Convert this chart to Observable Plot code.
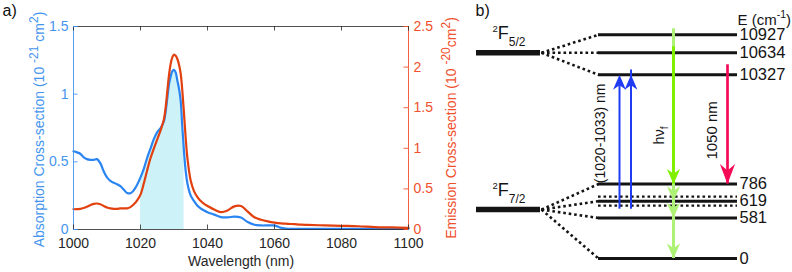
<!DOCTYPE html>
<html><head><meta charset="utf-8">
<script src="https://cdn.jsdelivr.net/npm/d3@7"></script>
<script src="https://cdn.jsdelivr.net/npm/@observablehq/plot@0.6"></script>
<style>
html,body{margin:0;padding:0;background:#fff;}
#wrap{display:flex;width:792px;height:272px;overflow:hidden;}
#wrap svg{overflow:visible;display:block;}
</style></head><body><div id="wrap"></div>
<script>
// ---------- data: panel a ----------
const wavelength = [1000,1001,1002,1003,1004,1005,1006,1007,1008,1009,1010,1011,1012,1013,1014,1015,1016,1017,1018,1019,1020,1021,1022,1023,1024,1025,1026,1027,
  1027.5,1028,1028.5,1029,1029.5,1030,1030.5,1031,1031.5,1032,1032.5,1033,1033.5,1034,
  1035,1036,1037,1038,1039,1040,
  1042,1044,1046,1048,1050,1052,1054,1056,1058,1060,1062,1064,1066,1068,1070,
  1075,1080,1085,1090,1095,1100];
const absorption = [0.578,0.57,0.56,0.535,0.52,0.515,0.515,0.52,0.49,0.43,0.385,0.36,0.345,0.335,0.32,0.295,0.27,0.268,0.29,0.33,0.385,0.45,0.53,0.6,0.67,0.72,0.75,0.8,
  0.87,0.97,1.07,1.13,1.17,1.18,1.16,1.1,1.04,0.95,0.75,0.57,0.43,0.34,
  0.25,0.21,0.175,0.155,0.14,0.128,
  0.11,0.092,0.09,0.095,0.088,0.055,0.035,0.03,0.03,0.03,0.012,0.005,0.005,0.005,0.005,
  0.005,0.005,0.005,0.005,0.005,0.005];
const emission = [0.25,0.25,0.255,0.265,0.28,0.3,0.315,0.32,0.31,0.29,0.27,0.26,0.255,0.255,0.26,0.26,0.26,0.275,0.31,0.36,0.43,0.57,0.73,0.88,1.0,1.11,1.22,1.36,
  1.5,1.7,1.9,2.04,2.12,2.155,2.14,2.1,2.03,1.92,1.7,1.42,1.12,0.88,
  0.6,0.47,0.4,0.35,0.315,0.29,
  0.245,0.215,0.235,0.285,0.29,0.22,0.15,0.12,0.1,0.085,0.075,0.07,0.065,0.06,0.057,
  0.05,0.045,0.04,0.03,0.025,0.02];
const xTicks = [1000,1020,1040,1060,1080,1100];
const absTicks = [0,0.5,1,1.5];
const emiTicks = [0,0.5,1,1.5,2,2.5];
const shadeRange = [1020,1033];

// ---------- data: panel b ----------
const levelEnergy = [0,581,619,786,10327,10634,10927];
const levelLabel = ["0","581","619","786","10327","10634","10927"];
const levelManifold = ["7/2","7/2","7/2","7/2","5/2","5/2","5/2"];
const termName = ["7/2","5/2"];
const termEnergy = [600,10634];          // schematic placement of the term bars
const thermalLevel = 619;
const pumpTransition = [619,10327];
const laserTransition = [10327,786];
const fluoFrom = 10927;
const fluoTargets = [786,619,581,0];
const pumpLabel = "(1020-1033) nm";
const laserLabel = "1050 nm";
const fluoLabel = "h\u03BD_{f}";

// ---------- styles ----------
const FONT = "'Liberation Sans', Arial, Helvetica, sans-serif";
const DARK = "#262626";
const BLUE_LINE = "#2a84f2", BLUE_TXT = "#4595ee";
const RED_LINE = "#e2400f", RED_TXT = "#f0502c";
const SHADE = "#cdf3f9";
const K = 1.5 / 2.5;

// rich text (super/subscripts) for labels written with ^{..} and _{..}
function richify(svg, configs) {
  svg.querySelectorAll("text").forEach(t => {
    const s = t.textContent;
    if (!/[\^_]\{/.test(s)) return;
    const o = configs.find(c => c.match(s));
    if (!o) return;
    while (t.firstChild) t.removeChild(t.firstChild);
    t.style.whiteSpace = "pre";
    let off = 0;
    s.split(/(\^\{[^}]*\}|_\{[^}]*\})/).filter(Boolean).forEach(tok => {
      let size = o.base, target = 0, txt = tok;
      if (tok.startsWith("^{")) { size = o.supSize; target = o.supDy; txt = tok.slice(2, -1); }
      else if (tok.startsWith("_{")) { size = o.subSize; target = o.subDy; txt = tok.slice(2, -1); }
      const ts = document.createElementNS("http://www.w3.org/2000/svg", "tspan");
      ts.setAttribute("font-size", size);
      if (target - off !== 0) ts.setAttribute("dy", target - off);
      off = target;
      ts.textContent = txt;
      t.appendChild(ts);
    });
  });
}

// ---------- panel a ----------
const spectra = wavelength.map((w, i) => ({w, abs: absorption[i], emi: emission[i] * K}));
const WA = 462, H = 272, mL = 73, mR = 54, mT = 26, mB = 43;
const plotW = WA - mL - mR, plotH = H - mT - mB;

const chartA = Plot.plot({
  width: WA, height: H, marginLeft: mL, marginRight: mR, marginTop: mT, marginBottom: mB,
  style: {fontFamily: FONT, fontSize: "14px", background: "white", color: DARK, overflow: "visible"},
  x: {domain: [1000, 1100]},
  y: {domain: [0, 1.5]},
  marks: [
    Plot.areaY(spectra.filter(d => d.w >= shadeRange[0] && d.w <= shadeRange[1]),
      {x: "w", y: "abs", fill: SHADE, curve: "catmull-rom"}),
    Plot.lineY(spectra, {x: "w", y: "abs", stroke: BLUE_LINE, strokeWidth: 2.2, curve: "catmull-rom"}),
    Plot.lineY(spectra, {x: "w", y: "emi", stroke: RED_LINE, strokeWidth: 2.2, curve: "catmull-rom"}),
    Plot.ruleY([1.5], {stroke: DARK, strokeWidth: 0.8}),
    Plot.ruleY([0], {stroke: DARK, strokeWidth: 0.8}),
    Plot.ruleX([1000], {stroke: BLUE_TXT, strokeWidth: 0.9}),
    Plot.ruleX([1100], {stroke: RED_TXT, strokeWidth: 0.9}),
    Plot.tickX(xTicks, {stroke: DARK, strokeWidth: 0.8, insetTop: plotH - 4.5}),
    Plot.tickX(xTicks, {stroke: DARK, strokeWidth: 0.8, insetBottom: plotH - 4.5}),
    Plot.tickY(absTicks, {stroke: BLUE_TXT, strokeWidth: 0.9, insetRight: plotW - 4.5}),
    Plot.tickY(emiTicks.map(v => v * K), {stroke: RED_TXT, strokeWidth: 0.9, insetLeft: plotW - 4.5}),
    Plot.axisX(xTicks, {anchor: "bottom", tickSize: 0, tickPadding: 9, fill: DARK, label: null,
      tickFormat: d => String(d)}),
    Plot.axisY(absTicks, {anchor: "left", tickSize: 0, tickPadding: 5, fill: BLUE_TXT, label: null,
      tickFormat: d => String(d)}),
    Plot.axisY(emiTicks.map(v => v * K), {anchor: "right", tickSize: 0, tickPadding: 5, fill: RED_TXT, label: null,
      tickFormat: d => String(Math.round(d / K * 10) / 10)}),
    Plot.text(["Wavelength (nm)"], {frameAnchor: "bottom", dy: 36, lineAnchor: "bottom", fill: DARK, fontSize: 14}),
    Plot.text(["Absorption Cross-section (10 ^{-21} cm^{2})"], {frameAnchor: "left", dx: -34, dy: 1.5, rotate: -90,
      textAnchor: "middle", fill: BLUE_TXT, fontSize: 14}),
    Plot.text(["Emission Cross-section (10 ^{-20}cm^{2})"], {frameAnchor: "right", dx: 43.5, dy: 0, rotate: -90,
      textAnchor: "middle", fill: RED_TXT, fontSize: 14}),
    Plot.text(["a)"], {frameAnchor: "top-left", dx: -71, dy: -10.5, lineAnchor: "bottom", textAnchor: "start",
      fill: "#111", fontSize: 16})
  ]
});
richify(chartA, [{match: s => s.includes("Cross-section"), base: 14, supSize: 12, supDy: -6, subSize: 12, subDy: 4}]);

// ---------- panel b ----------
const WB = 330;
const col = {termX1: 14, termX2: 78, levelX1: 136, levelX2: 275, labelX: 277, termLabelX: 30,
  pumpA: 157, pumpB: 168.5, pumpText: 138, fluo: 211, fluoText: 196.5, laser: 265, laserText: 250};
const levels = levelEnergy.map((E, i) => ({E, label: levelLabel[i], manifold: levelManifold[i]}));
const terms = termName.map((name, i) => ({name, E: termEnergy[i]}));
const fan = levels.map(l => ({E: l.E, termE: terms.find(t => t.name === l.manifold).E}));

// schematic (broken) energy axis: piecewise mapping of the energy levels onto the diagram height
const energyToDiagram = d3.scaleLinear().domain(levelEnergy).range([258, 217.5, 200.7, 183.5, 74.3, 52.3, 34.3]);

function arrowHead(wr, notch, dir) {
  return {draw(ctx, size) {
    const L = Math.sqrt(size / Math.PI), w = L * wr;
    ctx.moveTo(0, 0);
    ctx.lineTo(-w, -dir * L);
    ctx.lineTo(0, -dir * L * notch);
    ctx.lineTo(w, -dir * L);
    ctx.closePath();
  }};
}
const headDown = arrowHead(0.44, 0.7, 1);
const headUp = arrowHead(0.43, 0.7, -1);
const headLaser = arrowHead(0.38, 0.68, 1);

const BLACK = "#141414";
const DOTS = {stroke: BLACK, strokeWidth: 2.6, strokeDasharray: "2.6 2.9"};
const BLUE_A = "#1f3cf2", RED_A = "#f50a58", GREEN_B = "#80f000", GREEN_L = "#aef275";

const chartB = Plot.plot({
  width: WB, height: H, marginLeft: 0, marginRight: 0, marginTop: 0, marginBottom: 0,
  style: {fontFamily: FONT, fontSize: "16px", background: "white", color: BLACK, overflow: "visible"},
  x: {domain: [0, WB], range: [0, WB], axis: null},
  y: {domain: [0, H], range: [0, H], transform: energyToDiagram, axis: null},
  marks: [
    Plot.ruleY(terms, {y: "E", x1: col.termX1, x2: col.termX2, stroke: BLACK, strokeWidth: 5.5}),
    Plot.link(fan, {x1: col.termX2 + 1, y1: "termE", x2: col.levelX1, y2: "E", ...DOTS}),
    Plot.ruleY(levels, {y: "E", x1: col.levelX1, x2: col.levelX2, stroke: BLACK, strokeWidth: 3}),
    Plot.ruleY([thermalLevel], {x1: col.levelX1, x2: col.levelX2, dy: -4.6, ...DOTS, strokeWidth: 2.4}),
    Plot.ruleY([thermalLevel], {x1: col.levelX1, x2: col.levelX2, dy: 4.4, ...DOTS, strokeWidth: 2.4}),
    // level labels
    Plot.text(levels, {x: col.labelX, y: "E", text: "label", textAnchor: "start", fontSize: 16.5, fill: BLACK}),
    Plot.text(["E (cm^{-1})"], {x: col.labelX - 2, frameAnchor: "top", dy: 13.5, textAnchor: "start",
      fontSize: 15, fill: BLACK}),
    Plot.text(terms, {x: col.termLabelX, y: "E", dy: -13.5, lineAnchor: "bottom", textAnchor: "start",
      text: d => `^{2}F_{${d.name}}`, fontSize: 18, fill: BLACK}),
    // pump arrows
    Plot.ruleX([col.pumpA], {y1: pumpTransition[0], y2: pumpTransition[1], stroke: BLUE_A, strokeWidth: 2,
      insetBottom: -4.2, insetTop: 8}),
    Plot.ruleX([col.pumpB], {y1: pumpTransition[0], y2: pumpTransition[1], stroke: BLUE_A, strokeWidth: 2,
      insetBottom: 4.8, insetTop: 8}),
    Plot.dot([col.pumpA, col.pumpB], {x: d => d, y: () => pumpTransition[1], symbol: headUp, r: 15, fill: BLUE_A}),
    // fluorescence arrow
    Plot.ruleX([col.fluo], {y1: 0, y2: fluoFrom, stroke: GREEN_L, strokeWidth: 3, insetBottom: 6}),
    Plot.ruleX([col.fluo], {y1: fluoTargets[0], y2: levelEnergy[5], stroke: GREEN_B, strokeWidth: 3, insetBottom: 6}),
    Plot.dot(fluoTargets.slice(1), {x: () => col.fluo, y: d => d, symbol: headDown, r: 15, fill: GREEN_L}),
    Plot.dot(fluoTargets.slice(0, 1), {x: () => col.fluo, y: d => d, symbol: headDown, r: 15, fill: GREEN_B}),
    // laser arrow
    Plot.ruleX([col.laser], {y1: laserTransition[1], y2: laserTransition[0], stroke: RED_A, strokeWidth: 2.7,
      insetBottom: 10}),
    Plot.dot([laserTransition[1]], {x: () => col.laser, y: d => d, symbol: headLaser, r: 20, fill: RED_A}),
    // rotated labels
    Plot.text([pumpLabel], {x: col.pumpText, y: (pumpTransition[0] + pumpTransition[1]) / 2, dy: 3, rotate: -90,
      fontSize: 14, fill: BLACK}),
    Plot.text([fluoLabel], {x: col.fluoText, y: fluoFrom / 2, dy: 5, rotate: -90, fontSize: 14.5, fill: BLACK}),
    Plot.text([laserLabel], {x: col.laserText, y: (laserTransition[0] + laserTransition[1]) / 2, dy: 1, rotate: -90,
      fontSize: 15, fill: BLACK}),
    Plot.text(["b)"], {frameAnchor: "top-left", dx: 13, dy: 15.5, lineAnchor: "bottom", textAnchor: "start",
      fontSize: 16, fill: "#111"})
  ]
});
richify(chartB, [
  {match: s => s.startsWith("E "), base: 15, supSize: 10.5, supDy: -6.5, subSize: 11, subDy: 4},
  {match: s => s.startsWith("^{2}F"), base: 18, supSize: 9.5, supDy: -7.5, subSize: 12, subDy: 7},
  {match: s => s.startsWith("h"), base: 14.5, supSize: 10, supDy: -5, subSize: 10, subDy: 4}
]);

const wrap = document.getElementById("wrap");
wrap.appendChild(chartA);
wrap.appendChild(chartB);
</script>
</body></html>
